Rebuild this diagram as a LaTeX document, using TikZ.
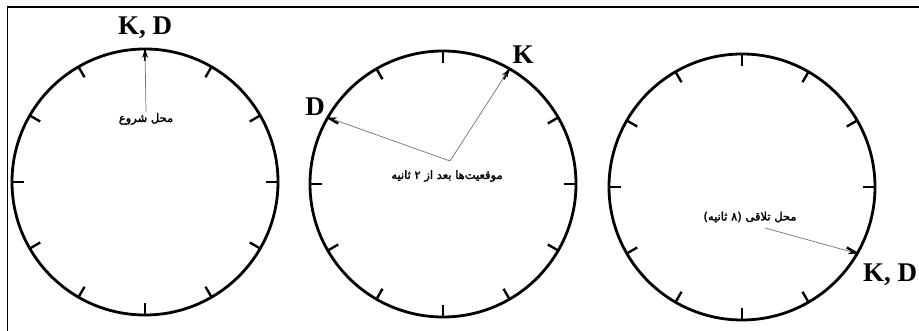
\documentclass[tikz,border=0pt]{standalone}
\usepackage{fontspec}
\setmainfont{Liberation Serif}
\newfontfamily\persianfont[Script=Arabic,FakeBold=2]{DejaVu Sans}
\TeXXeTstate=1
\usetikzlibrary{arrows.meta}
\tikzset{
  dial/.style={line width=2.8pt},
  dialtick/.style={line width=2.4pt},
  pointer/.style={draw=black!55, line width=0.7pt, -{Stealth[black,length=9pt,width=6pt]}},
  runner/.style={font=\bfseries\fontsize{27}{27}\selectfont, inner sep=0pt},
  caption/.style={font=\persianfont\fontsize{11.5}{13}\selectfont, inner sep=1pt}
}
\begin{document}
\begin{tikzpicture}[x=1pt,y=1pt]
  \useasboundingbox (0,0) rectangle (919,331);
  \def\r{133pt}
  \def\t{12pt}
  \coordinate (c1) at (145,149);
  \coordinate (c2) at (443,147);
  \coordinate (c3) at (742,144);
  % frame
  \draw[line width=1.6pt] (7.5,0) -- (7.5,324) -- (919,324);
  % dials
  \foreach \c in {c1,c2,c3} {
    \draw[dial] (\c) circle[radius=\r];
    \foreach \a in {0,30,...,330}
      \draw[dialtick] (\c) ++(\a:\r) -- ++(\a+180:\t);
  }
  \path (c1) ++(90:\r) coordinate (top1);
  \path (c2) ++(60:\r) coordinate (kpos2);
  \path (c2) ++(150:\r) coordinate (dpos2);
  \path (c3) ++(-30:\r) coordinate (meet3);
  % start
  \node[runner] (kd1) at (145,303) {K, D};
  \node[caption] (start) at (146,212) {\beginR محل شروع\endR};
  \draw[pointer] (start.north) -- (top1);
  % after 2 seconds
  \node[runner] (k2) at (523,276) {K};
  \node[runner] (d2) at (315,224) {D};
  \coordinate (o2) at (450,170);
  \node[caption] (pos2) at (447,155) {\beginR موقعیت‌ها بعد از ۲ ثانیه\endR};
  \draw[pointer] (o2) -- (kpos2);
  \draw[pointer] (o2) -- (dpos2);
  % meeting point
  \node[caption] (meet) at (750,114) {\beginR محل تلاقی (۸ ثانیه)\endR};
  \draw[pointer] (765,103) -- (meet3);
  \node[runner] (kd3) at (890,56) {K, D};
\end{tikzpicture}
\end{document}
